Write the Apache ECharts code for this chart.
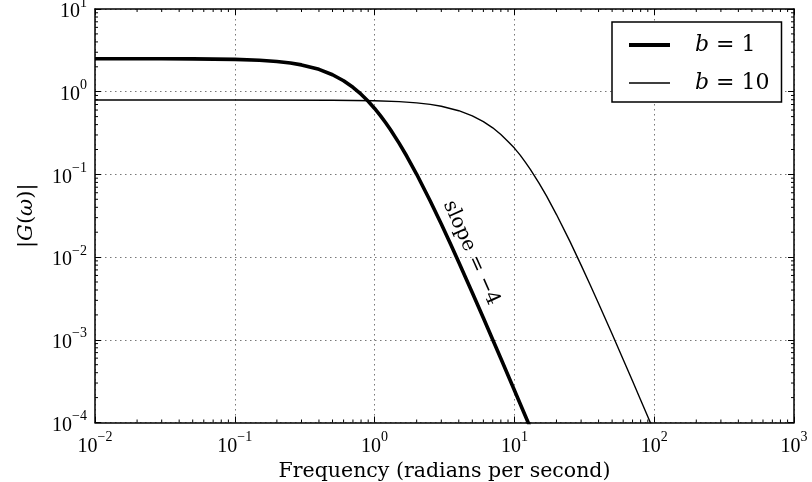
<!DOCTYPE html>
<html><head><meta charset="utf-8">
<script src="https://cdn.jsdelivr.net/npm/echarts@6/dist/echarts.min.js"></script>
<style>html,body{margin:0;padding:0;background:#fff}#c{width:812px;height:482px}</style>
</head><body><div id="c"></div>
<script>
// ---- data ----
const seriesNames = ['b = 1', 'b = 10'];
const freqB1 = [0.01, 0.03, 0.05, 0.1, 0.15, 0.2, 0.25, 0.3, 0.4, 0.5, 0.6, 0.7, 0.8, 0.9, 1.0, 1.1, 1.2, 1.3, 1.5, 1.7, 2, 2.5, 3, 3.5, 4, 5, 6, 7, 8, 10, 12, 13];
const gainB1 = [2.507, 2.505, 2.4945, 2.458, 2.398, 2.318, 2.224, 2.110, 1.863, 1.604, 1.355, 1.129, 0.932, 0.765, 0.627, 0.5133, 0.421, 0.3465, 0.2373, 0.1657, 0.1003, 0.0477, 0.02507, 0.01428, 0.00867, 0.00371, 0.001831, 0.001003, 0.000593, 0.0002458, 0.0001192, 0.0000867];
const freqB10 = [0.01, 0.1, 0.5, 1, 1.5, 2, 2.5, 3, 4, 5, 6, 7, 8, 9, 10, 11, 12, 13, 15, 17, 20, 25, 30, 35, 40, 50, 60, 70, 80, 100];
const gainB10 = [0.7928, 0.7928, 0.7888, 0.7773, 0.7583, 0.7330, 0.7033, 0.6672, 0.5891, 0.5110, 0.4350, 0.3660, 0.3030, 0.2500, 0.2080, 0.1710, 0.1400, 0.1150, 0.0785, 0.0545, 0.0327, 0.01540, 0.008000, 0.004540, 0.002750, 0.001173, 0.000579, 0.000317, 0.0001875, 0.0000777];
const xTickExps = ['−2', '−1', '0', '1', '2', '3'];
const yTickExps = ['−4', '−3', '−2', '−1', '0', '1'];
const xRange = [0.01, 1000];
const yRange = [0.0001, 10];
const xTitle = 'Frequency (radians per second)';
const slopeText = 'slope = −4';
const slopeAnchor = [4.9, 0.0112];

// ---- styling ----
const tickFont = 'Liberation Serif';
const textFont = 'DejaVu Serif';

function minorTicks(lo, hi) {
  const out = [];
  for (let e = Math.round(Math.log10(lo)); e < Math.round(Math.log10(hi)); e++) {
    for (let m = 2; m <= 9; m++) out.push(m * Math.pow(10, e));
  }
  return out;
}
const minorX = minorTicks(xRange[0], xRange[1]);
const minorY = minorTicks(yRange[0], yRange[1]);

const tickRich = {
  b: { fontFamily: tickFont, fontSize: 20, color: '#000', padding: [6, 0, 0, 0], verticalAlign: 'bottom' },
  s: { fontFamily: tickFont, fontSize: 14, color: '#000', verticalAlign: 'top', lineHeight: 13 }
};
function fmt(exps, first) {
  return function (v) {
    const e = Math.round(Math.log10(v));
    return '{b|10}{s|' + exps[e - first] + '}';
  };
}
const axisLineStyle = { show: true, onZero: false, lineStyle: { color: '#000', width: 1.5 } };
const gridLine = { show: true, lineStyle: { color: '#777', width: 1, type: [1.5, 3.5] } };

function majorAxis(pos, range, labels, extra) {
  return Object.assign({
    type: 'log', logBase: 10, min: range[0], max: range[1], position: pos,
    axisLine: axisLineStyle,
    axisTick: { show: true, inside: true, length: 6, lineStyle: { color: '#000', width: 1 } },
    minorTick: { show: false },
    axisLabel: labels ? labels : { show: false },
    splitLine: { show: false }
  }, extra || {});
}

// legend icons: filled bar inside a 41x22 box (degenerate sub-paths fix the box)
const iconThick = 'path://M0,0L41,0L41,0.001Z M0,9L41,9L41,13L0,13Z M0,22L41,22L41,22.001Z';
const iconThin = 'path://M0,0L41,0L41,0.001Z M0,10.3L41,10.3L41,11.7L0,11.7Z M0,22L41,22L41,22.001Z';

// minor ticks drawn against the axes' own scales
const minorData = minorX.map(function (v) { return [v, 0]; }).concat(minorY.map(function (v) { return [v, 1]; }));
function renderMinor(params, api) {
  const v = api.value(0), kind = api.value(1);
  const L = 3;
  let a, b, s = { stroke: '#000', lineWidth: 1 };
  if (kind === 0) {
    a = api.coord([v, yRange[0]]); b = api.coord([v, yRange[1]]);
    return { type: 'group', children: [
      { type: 'line', shape: { x1: a[0], y1: a[1], x2: a[0], y2: a[1] - L }, style: s },
      { type: 'line', shape: { x1: b[0], y1: b[1], x2: b[0], y2: b[1] + L }, style: s }
    ] };
  } else {
    a = api.coord([xRange[0], v]); b = api.coord([xRange[1], v]);
    return { type: 'group', children: [
      { type: 'line', shape: { x1: a[0], y1: a[1], x2: a[0] + L, y2: a[1] }, style: s },
      { type: 'line', shape: { x1: b[0], y1: b[1], x2: b[0] - L, y2: b[1] }, style: s }
    ] };
  }
}

const chart = echarts.init(document.getElementById('c'), null, { renderer: 'canvas' });
chart.setOption({
  animation: false,
  backgroundColor: '#fff',
  color: ['#000', '#000'],
  grid: { left: 95, top: 9, width: 699, height: 413.5, containLabel: false, outerBoundsMode: 'none' },
  legend: {
    data: [
      { name: seriesNames[0], icon: iconThick, itemStyle: { color: '#000' } },
      { name: seriesNames[1], icon: iconThin, itemStyle: { color: '#000' } }
    ],
    left: 612, top: 22, orient: 'vertical',
    padding: [12, 12, 8, 17], itemGap: 16, itemWidth: 41, itemHeight: 22,
    borderColor: '#000', borderWidth: 1.5, borderRadius: 0, backgroundColor: '#fff',
    formatter: function (name) { return '{i|b}{n|' + name.slice(1) + '}'; },
    textStyle: {
      fontSize: 22, fontFamily: textFont,
      rich: {
        i: { fontFamily: textFont, fontStyle: 'italic', fontSize: 22, color: '#000', padding: [0, 0, 0, 20] },
        n: { fontFamily: textFont, fontSize: 22, color: '#000' }
      }
    }
  },
  xAxis: [
    majorAxis('bottom', xRange, { show: true, margin: 8, fontSize: 20, fontFamily: tickFont, color: '#000', formatter: fmt(xTickExps, -2), rich: tickRich }, {
      splitLine: gridLine,
      name: xTitle, nameLocation: 'middle', nameGap: 33,
      nameTextStyle: { fontFamily: textFont, fontSize: 20.5, color: '#000' }
    }),
    majorAxis('top', xRange, null)
  ],
  yAxis: [
    majorAxis('left', yRange, { show: true, margin: 8, fontSize: 20, fontFamily: tickFont, color: '#000', formatter: fmt(yTickExps, -4), rich: tickRich }, {
      splitLine: gridLine,
      name: '{n||}{i|G}{n|(}{i|ω}{n|)|}', nameLocation: 'middle', nameGap: 58,
      nameTextStyle: {
        rich: {
          n: { fontFamily: textFont, fontSize: 21, color: '#000' },
          i: { fontFamily: textFont, fontSize: 21, fontStyle: 'italic', color: '#000' }
        }
      }
    }),
    majorAxis('right', yRange, null)
  ],
  series: [
    {
      name: seriesNames[0], type: 'line', xAxisIndex: 0, yAxisIndex: 0,
      data: freqB1.map(function (f, i) { return [f, gainB1[i]]; }),
      symbol: 'none', clip: true, z: 4,
      lineStyle: { color: '#000', width: 3.6 }, itemStyle: { color: '#000' }
    },
    {
      name: seriesNames[1], type: 'line', xAxisIndex: 0, yAxisIndex: 0,
      data: freqB10.map(function (f, i) { return [f, gainB10[i]]; }),
      symbol: 'none', clip: true, z: 3,
      lineStyle: { color: '#000', width: 1.4 }, itemStyle: { color: '#000' }
    },
    {
      name: 'minor ticks', type: 'custom', xAxisIndex: 0, yAxisIndex: 0,
      data: minorData, renderItem: renderMinor, clip: false, silent: true, z: 5,
      encode: { x: -1, y: -1 }
    }
  ]
});
const p = chart.convertToPixel({ xAxisIndex: 0, yAxisIndex: 0 }, slopeAnchor);
chart.setOption({
  graphic: [{
    type: 'text', x: p[0], y: p[1], rotation: -66 * Math.PI / 180, z: 10,
    style: { text: slopeText, fontFamily: textFont, fontSize: 20, fill: '#000', align: 'center', verticalAlign: 'middle' }
  }]
});
</script></body></html>
